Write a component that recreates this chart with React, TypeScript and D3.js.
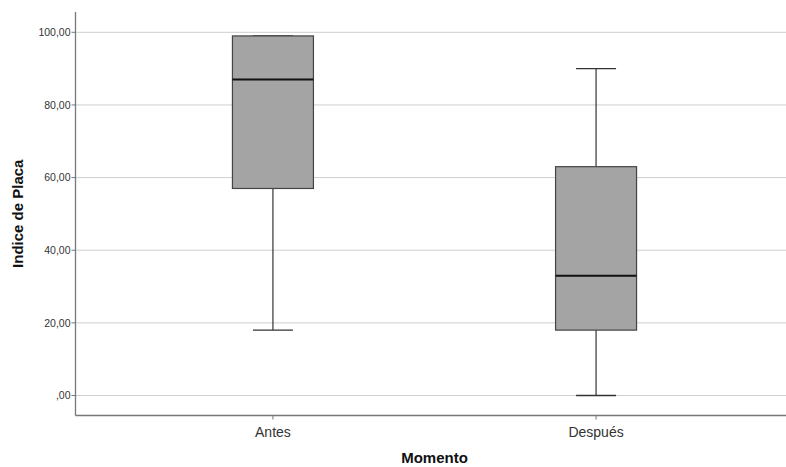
import React from "react";
import * as d3 from "d3";

const categories = ["Antes", "Después"];
const mins = [18, 0];
const q1s = [57, 18];
const medians = [87, 33];
const q3s = [99, 63];
const maxs = [99, 90];
const yTicks = [0, 20, 40, 60, 80, 100];
const yTickLabels = [",00", "20,00", "40,00", "60,00", "80,00", "100,00"];

export default function App() {
  const W = 786, H = 467;
  const left = 75.5, top = 12, bottom = 415.5, right = 793.5;
  const y = d3.scaleLinear().domain([0, 100]).range([395.5, 32.3]);
  const x = d3.scalePoint<string>().domain(categories).range([left, right]).padding(0.611);
  const boxW = 81, capW = 40;
  const font = "Arial, 'Liberation Sans', sans-serif";
  return (
    <svg width={W} height={H} style={{ position: "absolute", left: 0, top: 0, background: "#fff" }}>
      {yTicks.map((t, i) => (
        <g key={t}>
          <line x1={left} x2={W} y1={y(t)} y2={y(t)} stroke="#cfcfcf" strokeWidth={1} />
          <line x1={left - 4} x2={left} y1={y(t)} y2={y(t)} stroke="#777" strokeWidth={1} />
          <text x={70.5} y={y(t)} dy="0.35em" textAnchor="end" fontFamily={font} fontSize={10.5} fill="#333">
            {yTickLabels[i]}
          </text>
        </g>
      ))}
      {categories.map((c, i) => {
        const cx = x(c)!;
        return (
          <g key={c}>
            <line x1={cx} x2={cx} y1={y(maxs[i])} y2={y(q3s[i])} stroke="#333" strokeWidth={1.2} />
            <line x1={cx} x2={cx} y1={y(q1s[i])} y2={y(mins[i])} stroke="#333" strokeWidth={1.2} />
            <line x1={cx - capW / 2} x2={cx + capW / 2} y1={y(maxs[i])} y2={y(maxs[i])} stroke="#333" strokeWidth={1.4} />
            <line x1={cx - capW / 2} x2={cx + capW / 2} y1={y(mins[i])} y2={y(mins[i])} stroke="#333" strokeWidth={1.4} />
            <rect x={cx - boxW / 2} y={y(q3s[i])} width={boxW} height={y(q1s[i]) - y(q3s[i])} fill="#a4a4a4" stroke="#444" strokeWidth={1.2} />
            <line x1={cx - boxW / 2} x2={cx + boxW / 2} y1={y(medians[i])} y2={y(medians[i])} stroke="#111" strokeWidth={2} />
            <line x1={cx} x2={cx} y1={bottom} y2={bottom + 4} stroke="#777" strokeWidth={1} />
            <text x={cx} y={437} textAnchor="middle" fontFamily={font} fontSize={14} fill="#333">{c}</text>
          </g>
        );
      })}
      <line x1={left} x2={left} y1={top} y2={bottom} stroke="#777" strokeWidth={1.3} />
      <line x1={left} x2={W} y1={bottom} y2={bottom} stroke="#777" strokeWidth={1.3} />
      <text x={(left + right) / 2} y={463} textAnchor="middle" fontFamily={font} fontSize={15} fontWeight="bold" fill="#111">Momento</text>
      <text transform={`translate(23,${(top + bottom) / 2}) rotate(-90)`} textAnchor="middle" fontFamily={font} fontSize={15} fontWeight="bold" fill="#111">Indice de Placa</text>
    </svg>
  );
}
